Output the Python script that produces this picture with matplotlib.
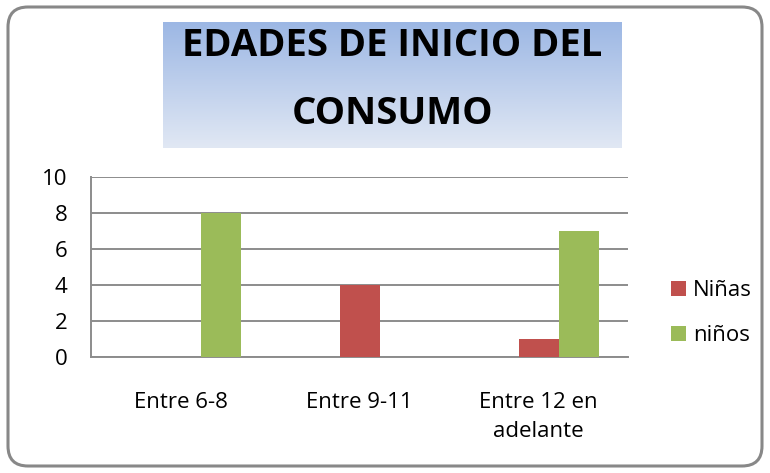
import matplotlib
matplotlib.use("Agg")
import matplotlib.pyplot as plt
import numpy as np
from matplotlib.patches import FancyBboxPatch
from matplotlib.colors import LinearSegmentedColormap

categories = ["Entre 6-8", "Entre 9-11", "Entre 12 en\nadelante"]
ninas = [0, 4, 1]
ninos = [8, 0, 7]
series_names = ["Niñas", "niños"]
yticks = [0, 2, 4, 6, 8, 10]
title = "EDADES DE INICIO DEL\nCONSUMO"

plt.rcParams['font.family'] = ['Open Sans', 'DejaVu Sans']

W, H = 770, 473
fig = plt.figure(figsize=(W / 100, H / 100), dpi=100)

# outer rounded frame
frame = FancyBboxPatch((8 / 100, 7 / 100), (762 - 8) / 100, (466 - 7) / 100,
                       boxstyle="round,pad=0,rounding_size=0.2",
                       transform=fig.dpi_scale_trans, facecolor="none",
                       edgecolor="#888888", linewidth=2.2, zorder=-10)
fig.patches.append(frame)

# title box with gradient
tx0, tx1, ty0, ty1 = 163, 622, 22, 148
tax = fig.add_axes([tx0 / W, 1 - ty1 / H, (tx1 - tx0) / W, (ty1 - ty0) / H])
cmap = LinearSegmentedColormap.from_list("g", ["#9CB7E4", "#E1E8F4"])
grad = np.linspace(0, 1, 256).reshape(-1, 1)
tax.imshow(grad, aspect="auto", cmap=cmap, extent=[0, 1, 0, 1], origin="upper")
tax.set_xlim(0, 1)
tax.set_ylim(0, 1)
tax.axis("off")
fig.text((tx0 + tx1) / 2 / W, 1 - 80 / H, title, ha="center", va="center",
         fontsize=27.5, fontweight="bold", linespacing=2.0, color="black", zorder=5)

# main plot
FS = 16
ax = fig.add_axes([91 / W, 1 - 357 / H, (628 - 91) / W, 180 / H])
x = np.arange(len(categories))
w = 40 / 179
ax.bar(x, ninas, width=w, color="#C0504D", label=series_names[0], zorder=3)
ax.bar(x + w, ninos, width=w, color="#9BBB59", label=series_names[1], zorder=3)
ax.set_xlim(-0.5, len(categories) - 0.5)
ax.set_ylim(0, 10)
ax.set_yticks(yticks)
ax.set_xticks(x)
ax.set_xticklabels(categories, fontsize=FS, linespacing=1.5)
ax.tick_params(axis="y", labelsize=FS, length=0, pad=17)
ax.tick_params(axis="x", length=0, pad=25)
ax.grid(axis="y", color="#8C8C8C", linewidth=1.4, zorder=0)
ax.spines["right"].set_visible(False)
ax.spines["top"].set_visible(False)
ax.spines["left"].set_color("#8C8C8C")
ax.spines["bottom"].set_color("#8C8C8C")
ax.spines["left"].set_linewidth(1.4)
ax.spines["bottom"].set_linewidth(1.4)
ax.set_axisbelow(True)

leg = fig.legend(loc="upper left", bbox_to_anchor=(671 / W, 1 - 280 / H),
                 frameon=False, fontsize=FS, handlelength=0.68, handleheight=0.68,
                 handletextpad=0.32, labelspacing=1.1, borderpad=0, borderaxespad=0)

fig.savefig("out.png", dpi=100)
